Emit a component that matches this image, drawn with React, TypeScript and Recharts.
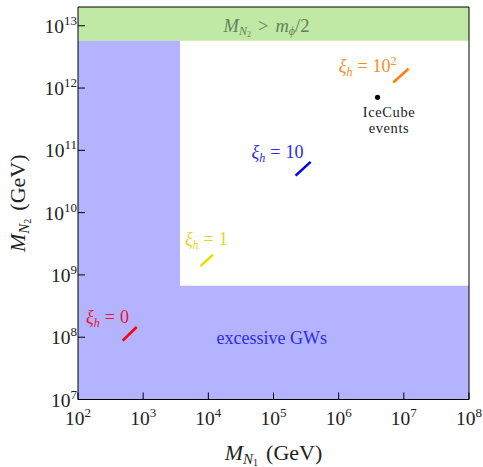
import React from 'react';
import {
  ComposedChart,
  XAxis,
  YAxis,
  ReferenceArea,
  ReferenceLine,
  ReferenceDot,
  Scatter,
} from 'recharts';

// ---- data -------------------------------------------------------------
const xTickExponents = [2, 3, 4, 5, 6, 7, 8];
const yTickExponents = [7, 8, 9, 10, 11, 12, 13];
const X_DOMAIN: [number, number] = [1e2, 1e8];
const Y_DOMAIN: [number, number] = [1e7, 2e13];

// kinematic bound M_N2 > m_phi/2 (lower edge of the band)
const kinematicBoundN2 = 5.74e12;
// corner of the region excluded by excessive GWs
const gwBoundN1 = 3.67e3;
const gwBoundN2 = 6.73e8;

// xi_h benchmark segments
const xiLabels = ['0', '1', '10', '10²'];
const segStartN1 = [484, 7.6e3, 2.18e5, 6.86e6];
const segStartN2 = [8.8e7, 1.39e9, 3.93e10, 1.23e12];
const segEndN1 = [795, 1.18e4, 3.71e5, 1.18e7];
const segEndN2 = [1.46e8, 2.12e9, 6.52e10, 2.04e12];

// IceCube events point
const iceCubeN1 = [3.95e6];
const iceCubeN2 = [7.1e11];

// ---- annotation anchors (data coordinates) ----------------------------
const xiLabelN1 = [1.33e2, 4.37e3, 4.61e4, 1.0e6];
const xiLabelN2 = [1.7e8, 3.03e9, 7.46e10, 1.83e12];
const iceLabelAt = { n1: 5.93e6, n2: 3.45e11 };
const gwLabelAt = { n1: 1.34e4, n2: 7.8e7 };
const boundLabelAt = { n1: 7.8e4, n2: 8.0e12 };

// ---- styles -----------------------------------------------------------
const FONT = '"Liberation Serif", "DejaVu Serif", serif';
const xiColors = ['#ff0000', '#e6e000', '#0000ff', '#ff7f0e'];
const xiTextColors = ['#ee1133', '#e0d820', '#2a2af0', '#ff8a25'];
const GW_FILL = '#b3b3ff';
const BOUND_FILL = '#c0e9a5';
const MAJOR = 7;
const MINOR = 3.5;
const THIN = 0.001; // axes need a non-zero size to be drawn

const xMajor = xTickExponents.map((e) => Math.pow(10, e));
const yMajor = yTickExponents.map((e) => Math.pow(10, e));
const minorsBetween = (lo: number, hi: number) => {
  const out: number[] = [];
  for (let e = lo; e < hi; e++) {
    for (let m = 2; m <= 9; m++) out.push(m * Math.pow(10, e));
  }
  return out;
};
const xMinor = minorsBetween(2, 8);
const yMinor = minorsBetween(7, 13);

const iceCube = iceCubeN1.map((n1, i) => ({ n1, n2: iceCubeN2[i] }));

const XTick = (props: any) => {
  const { x, y, payload } = props;
  const exp = Math.round(Math.log10(payload.value));
  return (
    <text x={x} y={y + MAJOR + 25} textAnchor="middle" fontFamily={FONT} fontSize={19.5} fill="#222">
      10
      <tspan dy={-8} fontSize={13}>
        {exp}
      </tspan>
    </text>
  );
};

const YTick = (props: any) => {
  const { x, y, payload } = props;
  const exp = Math.round(Math.log10(payload.value));
  return (
    <text x={x - MAJOR - 1} y={y + 7} textAnchor="end" fontFamily={FONT} fontSize={19.5} fill="#222">
      10
      <tspan dy={-8} fontSize={13}>
        {exp}
      </tspan>
    </text>
  );
};

const XiText = (i: number) => (p: any) => {
  const sup = xiLabels[i].endsWith('²');
  return (
    <text x={p.cx} y={p.cy} fontFamily={FONT} fontSize={18} fill={xiTextColors[i]}>
      <tspan fontStyle="italic">ξ</tspan>
      <tspan fontStyle="italic" fontSize={12} dy={4}>
        h
      </tspan>
      <tspan dy={-4} dx={5}>=</tspan>
      <tspan dx={5}>{sup ? '10' : xiLabels[i]}</tspan>
      {sup && (
        <tspan fontSize={12} dy={-7}>
          2
        </tspan>
      )}
    </text>
  );
};

const IceText = (p: any) => (
  <text x={p.cx} y={p.cy} textAnchor="middle" fontFamily={FONT} fontSize={14.5} letterSpacing={0.6} fill="#222">
    <tspan x={p.cx}>IceCube</tspan>
    <tspan x={p.cx} dy={16}>
      events
    </tspan>
  </text>
);

const GwText = (p: any) => (
  <text x={p.cx} y={p.cy} fontFamily={FONT} fontSize={18} fill="#2b2bea">
    excessive GWs
  </text>
);

const BoundText = (p: any) => (
  <text x={p.cx} y={p.cy} textAnchor="middle" fontFamily={FONT} fontSize={18.5} fill="#66805a">
    <tspan fontStyle="italic">M</tspan>
    <tspan fontStyle="italic" fontSize={12} dy={3}>
      N
    </tspan>
    <tspan fontSize={8} dy={2}>
      2
    </tspan>
    <tspan dy={-5} dx={7}>{'>'}</tspan>
    <tspan fontStyle="italic" dx={7}>m</tspan>
    <tspan fontStyle="italic" fontSize={12} dy={3}>
      ϕ
    </tspan>
    <tspan dy={-3}>/2</tspan>
  </text>
);

const XTitle = (props: any) => {
  const vb = props.viewBox || {};
  const cx = vb.x + vb.width / 2;
  return (
    <text x={cx} y={vb.y + 60.5} textAnchor="middle" fontFamily={FONT} fontSize={22} fill="#222">
      <tspan fontStyle="italic">M</tspan>
      <tspan fontStyle="italic" fontSize={15} dy={4}>
        N
      </tspan>
      <tspan fontSize={10} dy={2}>
        1
      </tspan>
      <tspan dy={-6} dx={8}>
        (GeV)
      </tspan>
    </text>
  );
};

const YTitle = (props: any) => {
  const vb = props.viewBox || {};
  const x = vb.x - 53;
  const y = vb.y + vb.height / 2;
  return (
    <text
      x={x}
      y={y}
      transform={`rotate(-90 ${x} ${y})`}
      textAnchor="middle"
      fontFamily={FONT}
      fontSize={22}
      fill="#222"
    >
      <tspan fontStyle="italic">M</tspan>
      <tspan fontStyle="italic" fontSize={15} dy={4}>
        N
      </tspan>
      <tspan fontSize={10} dy={2}>
        2
      </tspan>
      <tspan dy={-6} dx={8}>
        (GeV)
      </tspan>
    </text>
  );
};

const axisCommon = {
  type: 'number' as const,
  scale: 'log' as const,
  allowDataOverflow: true,
  mirror: true,
  tickMargin: 0,
  stroke: '#000',
};

export default function App() {
  return (
    <div style={{ position: 'absolute', left: 0, top: 0 }}>
      <ComposedChart
        width={483}
        height={467}
        data={iceCube}
        margin={{ top: 7, right: 14, bottom: 67.5, left: 78 }}
      >
        {/* kinematically forbidden band */}
        <ReferenceArea xAxisId="x" yAxisId="y" x1={X_DOMAIN[0]} x2={X_DOMAIN[1]}
          y1={kinematicBoundN2} y2={Y_DOMAIN[1]} fill={BOUND_FILL} fillOpacity={1} stroke="none" ifOverflow="hidden" />
        {/* excessive gravitational-wave region (L-shaped) */}
        <ReferenceArea xAxisId="x" yAxisId="y" x1={X_DOMAIN[0]} x2={gwBoundN1}
          y1={Y_DOMAIN[0]} y2={kinematicBoundN2} fill={GW_FILL} fillOpacity={1} stroke="none" ifOverflow="hidden" />
        <ReferenceArea xAxisId="x" yAxisId="y" x1={X_DOMAIN[0]} x2={X_DOMAIN[1]}
          y1={Y_DOMAIN[0]} y2={gwBoundN2} fill={GW_FILL} fillOpacity={1} stroke="none" ifOverflow="hidden" />

        {/* bottom axis: labels + major ticks */}
        <XAxis
          {...axisCommon}
          xAxisId="x"
          dataKey="n1"
          orientation="bottom"
          height={THIN}
          domain={X_DOMAIN}
          ticks={xMajor}
          tickSize={MAJOR}
          tick={<XTick />}
          tickLine={{ stroke: '#000' }}
          axisLine={{ stroke: '#000' }}
          interval={0}
          label={<XTitleWrap />}
        />
        <XAxis {...axisCommon} xAxisId="xMinor" orientation="bottom" height={THIN} domain={X_DOMAIN}
          ticks={xMinor} tickSize={MINOR} tick={false} axisLine={false} interval={0} />
        <XAxis {...axisCommon} xAxisId="xTop" orientation="top" height={THIN} domain={X_DOMAIN}
          ticks={xMajor} tickSize={MAJOR} tick={false} axisLine={{ stroke: '#000' }} interval={0} />
        <XAxis {...axisCommon} xAxisId="xTopMinor" orientation="top" height={THIN} domain={X_DOMAIN}
          ticks={xMinor} tickSize={MINOR} tick={false} axisLine={false} interval={0} />

        <YAxis
          {...axisCommon}
          yAxisId="y"
          dataKey="n2"
          orientation="left"
          width={THIN}
          domain={Y_DOMAIN}
          ticks={yMajor}
          tickSize={MAJOR}
          tick={<YTick />}
          axisLine={{ stroke: '#000' }}
          interval={0}
          label={<YTitleWrap />}
        />
        <YAxis {...axisCommon} yAxisId="yMinor" orientation="left" width={THIN} domain={Y_DOMAIN}
          ticks={yMinor} tickSize={MINOR} tick={false} axisLine={false} interval={0} />
        <YAxis {...axisCommon} yAxisId="yRight" orientation="right" width={THIN} domain={Y_DOMAIN}
          ticks={yMajor} tickSize={MAJOR} tick={false} axisLine={{ stroke: '#000' }} interval={0} />
        <YAxis {...axisCommon} yAxisId="yRightMinor" orientation="right" width={THIN} domain={Y_DOMAIN}
          ticks={yMinor} tickSize={MINOR} tick={false} axisLine={false} interval={0} />

        {xiLabels.map((_, i) => (
          <ReferenceLine
            key={`seg-${i}`}
            xAxisId="x"
            yAxisId="y"
            segment={[
              { x: segStartN1[i], y: segStartN2[i] },
              { x: segEndN1[i], y: segEndN2[i] },
            ]}
            stroke={xiColors[i]}
            strokeWidth={2.6}
            ifOverflow="visible"
          />
        ))}

        {xiLabels.map((_, i) => (
          <ReferenceDot key={`lab-${i}`} xAxisId="x" yAxisId="y" x={xiLabelN1[i]} y={xiLabelN2[i]}
            r={0} ifOverflow="visible" shape={XiText(i)} />
        ))}

        <Scatter xAxisId="x" yAxisId="y" data={iceCube} dataKey="n2" fill="#000" isAnimationActive={false}
          shape={(p: any) => <circle cx={p.cx} cy={p.cy} r={2.6} fill="#000" />} />

        <ReferenceDot xAxisId="x" yAxisId="y" x={iceLabelAt.n1} y={iceLabelAt.n2} r={0}
          ifOverflow="visible" shape={IceText} />
        <ReferenceDot xAxisId="x" yAxisId="y" x={gwLabelAt.n1} y={gwLabelAt.n2} r={0}
          ifOverflow="visible" shape={GwText} />
        <ReferenceDot xAxisId="x" yAxisId="y" x={boundLabelAt.n1} y={boundLabelAt.n2} r={0}
          ifOverflow="visible" shape={BoundText} />
      </ComposedChart>
    </div>
  );
}

function XTitleWrap(props: any) {
  return <XTitle {...props} />;
}
function YTitleWrap(props: any) {
  return <YTitle {...props} />;
}
